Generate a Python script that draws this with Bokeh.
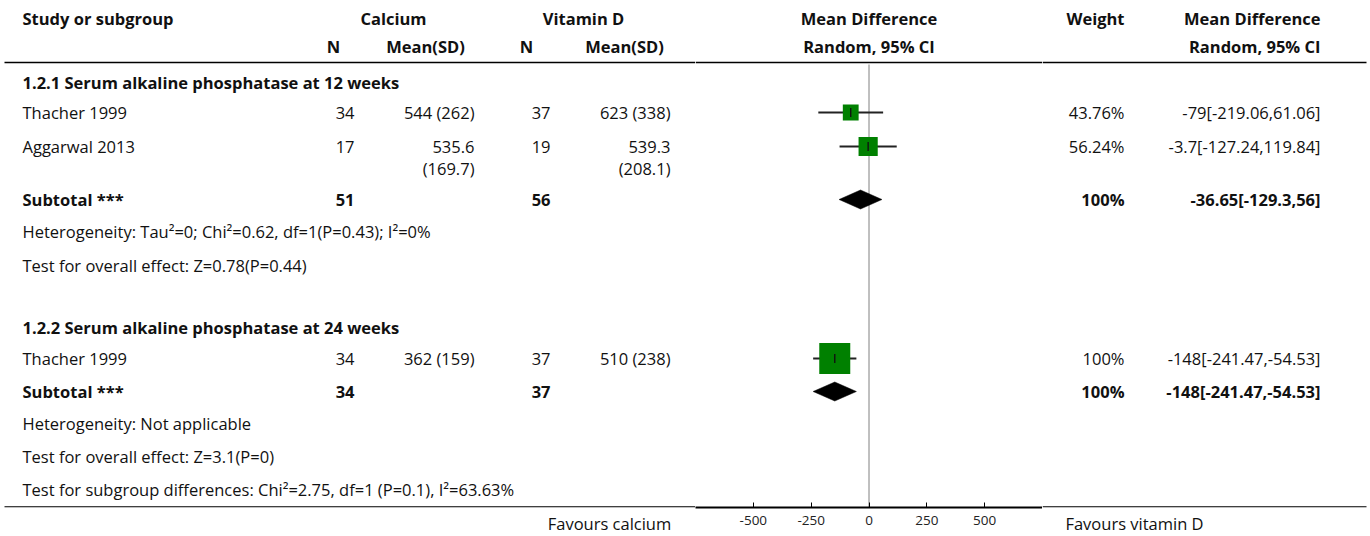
from bokeh.plotting import figure
from bokeh.models import Range1d, FixedTicker, LinearAxis
from bokeh.layouts import row
from bokeh.embed import file_html
from bokeh.resources import INLINE
from bokeh.core.properties import value

# ---------------- data ----------------
subgroup_titles = ["1.2.1 Serum alkaline phosphatase at 12 weeks",
                   "1.2.2 Serum alkaline phosphatase at 24 weeks"]
studies = ["Thacher 1999", "Aggarwal 2013", "Thacher 1999"]
study_subgroup = [0, 0, 1]
n_calcium = [34, 17, 34]
mean_calcium = [544, 535.6, 362]
sd_calcium = [262, 169.7, 159]
n_vitd = [37, 19, 37]
mean_vitd = [623, 539.3, 510]
sd_vitd = [338, 208.1, 238]
weight = [43.76, 56.24, 100]
md = [-79, -3.7, -148]
ci_lo = [-219.06, -127.24, -241.47]
ci_hi = [61.06, 119.84, -54.53]

sub_n_calcium = [51, 34]
sub_n_vitd = [56, 37]
sub_weight = [100, 100]
sub_md = [-36.65, -148]
sub_lo = [-129.3, -241.47]
sub_hi = [56, -54.53]
heterogeneity = ["Heterogeneity: Tau\u00b2=0; Chi\u00b2=0.62, df=1(P=0.43); I\u00b2=0%",
                 "Heterogeneity: Not applicable"]
overall_effect = ["Test for overall effect: Z=0.78(P=0.44)",
                  "Test for overall effect: Z=3.1(P=0)"]
subgroup_diff = "Test for subgroup differences: Chi\u00b2=2.75, df=1 (P=0.1), I\u00b2=63.63%"
axis_ticks = [-500, -250, 0, 250, 500]
axis_tick_labels = ["-500", "-250", "0", "250", "500"]
axis_limits = (-750, 750)
favours_left = "Favours calcium"
favours_right = "Favours vitamin D"

# ---------------- layout (screen pixels) ----------------
W_LEFT, W_MID, W_RIGHT = 695, 347, 328
FRAME_H = 507
FONT = "Open Sans"
FS = "16.5px"
INK = "#111111"
GREEN = "#008000"

Y_HEAD1, Y_HEAD2, Y_HLINE = 18, 46, 62
group_rows = [
    dict(title=82, studies=[112, 146], subtotal=199, het=231, overall=265),
    dict(title=327, studies=[358], subtotal=391, het=423, overall=456),
]
Y_SUBDIFF = 489
WRAP_STEP = 22
Y_ZERO_TOP = 64

X_STUDY = 22
X_N1_R, X_M1_R, X_N2_R, X_M2_R = 354, 474, 550, 670
X_N1_C, X_M1_C, X_N2_C, X_M2_C = 333, 425, 526, 624
X_CA_C, X_VD_C = 393, 583
X_W_R, X_CI_R = 1124, 1320
X_FAV_L_C, X_FAV_R_C = 609, 1134


def fmt(v):
    return f"{v:g}"


def mean_sd_lines(m, s):
    t = f"{fmt(m)} ({fmt(s)})"
    return t.split(" ") if len(t) > 10 else [t]


def ci_text(m, lo, hi):
    return f"{fmt(m)}[{fmt(lo)},{fmt(hi)}]"


def base_fig(width, x_range):
    p = figure(frame_width=width, frame_height=FRAME_H, x_range=x_range, y_range=Range1d(FRAME_H, 0),
               x_axis_location=None, y_axis_location=None, min_border=0,
               output_backend="svg", toolbar_location=None)
    p.grid.visible = False
    p.outline_line_color = None
    p.background_fill_color = "white"
    p.border_fill_color = "white"
    return p


left = base_fig(W_LEFT, Range1d(0, W_LEFT))
mid = base_fig(W_MID, Range1d(*axis_limits))
right = base_fig(W_RIGHT, Range1d(W_LEFT + W_MID, W_LEFT + W_MID + W_RIGHT))


def txt(p, x, y, s, align="left", bold=False, size=FS):
    p.text(x=[x], y=[y], text=[s], text_align=align, text_baseline="middle",
           text_font=value(FONT), text_font_size=size,
           text_font_style="bold" if bold else "normal", text_color=INK)


# ---------- header ----------
txt(left, X_STUDY, Y_HEAD1, "Study or subgroup", bold=True)
txt(left, X_CA_C, Y_HEAD1, "Calcium", "center", True)
txt(left, X_VD_C, Y_HEAD1, "Vitamin D", "center", True)
txt(left, X_N1_C, Y_HEAD2, "N", "center", True)
txt(left, X_M1_C, Y_HEAD2, "Mean(SD)", "center", True)
txt(left, X_N2_C, Y_HEAD2, "N", "center", True)
txt(left, X_M2_C, Y_HEAD2, "Mean(SD)", "center", True)
txt(mid, 0, Y_HEAD1, "Mean Difference", "center", True)
txt(mid, 0, Y_HEAD2, "Random, 95% CI", "center", True)
txt(right, X_W_R, Y_HEAD1, "Weight", "right", True)
txt(right, X_CI_R, Y_HEAD1, "Mean Difference", "right", True)
txt(right, X_CI_R, Y_HEAD2, "Random, 95% CI", "right", True)

left.segment(x0=[4], y0=[Y_HLINE], x1=[W_LEFT], y1=[Y_HLINE], line_color="#000000", line_width=1.6)
mid.segment(x0=[axis_limits[0]], y0=[Y_HLINE], x1=[axis_limits[1]], y1=[Y_HLINE],
            line_color="#000000", line_width=1.6)
right.segment(x0=[W_LEFT + W_MID], y0=[Y_HLINE], x1=[W_LEFT + W_MID + W_RIGHT - 4], y1=[Y_HLINE],
              line_color="#000000", line_width=1.6)
left.segment(x0=[4], y0=[FRAME_H - 0.6], x1=[W_LEFT], y1=[FRAME_H - 0.6], line_color="#000000", line_width=1.1)
right.segment(x0=[W_LEFT + W_MID], y0=[FRAME_H - 0.6], x1=[W_LEFT + W_MID + W_RIGHT - 4], y1=[FRAME_H - 0.6],
              line_color="#000000", line_width=1.1)

# zero line
mid.segment(x0=[0], y0=[Y_ZERO_TOP], x1=[0], y1=[FRAME_H], line_color="#808080", line_width=1)

# ---------- body ----------
for g, rows in enumerate(group_rows):
    txt(left, X_STUDY, rows["title"], subgroup_titles[g], bold=True)
    idx = [i for i, s in enumerate(study_subgroup) if s == g]
    for k, i in enumerate(idx):
        y = rows["studies"][k]
        txt(left, X_STUDY, y, studies[i])
        txt(left, X_N1_R, y, fmt(n_calcium[i]), "right")
        for j, line in enumerate(mean_sd_lines(mean_calcium[i], sd_calcium[i])):
            txt(left, X_M1_R, y + j * WRAP_STEP, line, "right")
        txt(left, X_N2_R, y, fmt(n_vitd[i]), "right")
        for j, line in enumerate(mean_sd_lines(mean_vitd[i], sd_vitd[i])):
            txt(left, X_M2_R, y + j * WRAP_STEP, line, "right")
        txt(right, X_W_R, y, f"{fmt(weight[i])}%", "right")
        txt(right, X_CI_R, y, ci_text(md[i], ci_lo[i], ci_hi[i]), "right")
        # forest marks
        mid.segment(x0=[ci_lo[i]], y0=[y], x1=[ci_hi[i]], y1=[y], line_color="#222222", line_width=1.8)
        mid.scatter(x=[md[i]], y=[y], marker="square", size=4 + 0.27 * weight[i],
                    fill_color=GREEN, line_color=None)
        mid.segment(x0=[md[i]], y0=[y - 4.5], x1=[md[i]], y1=[y + 4.5], line_color="#111111", line_width=1.4)
    ys = rows["subtotal"]
    txt(left, X_STUDY, ys, "Subtotal ***", bold=True)
    txt(left, X_N1_R, ys, fmt(sub_n_calcium[g]), "right", True)
    txt(left, X_N2_R, ys, fmt(sub_n_vitd[g]), "right", True)
    txt(right, X_W_R, ys, f"{fmt(sub_weight[g])}%", "right", True)
    txt(right, X_CI_R, ys, ci_text(sub_md[g], sub_lo[g], sub_hi[g]), "right", True)
    mid.patch(x=[sub_lo[g], sub_md[g], sub_hi[g], sub_md[g]],
              y=[ys, ys - 9.5, ys, ys + 9.5], fill_color="#000000", line_color="#000000", line_width=0.5)
    txt(left, X_STUDY, rows["het"], heterogeneity[g])
    txt(left, X_STUDY, rows["overall"], overall_effect[g])

txt(left, X_STUDY, Y_SUBDIFF, subgroup_diff)

# ---------- axes ----------
ax = LinearAxis(ticker=FixedTicker(ticks=axis_ticks))
ax.major_label_overrides = {t: s for t, s in zip(axis_ticks, axis_tick_labels)}
ax.major_tick_in = 5
ax.major_tick_out = 0
ax.minor_tick_in = 0
ax.minor_tick_out = 0
ax.axis_line_width = 1.8
ax.axis_line_color = "#000000"
ax.major_tick_line_color = "#000000"
ax.major_label_text_font = FONT
ax.major_label_text_font_size = "13.5px"
ax.major_label_text_color = "#222222"
ax.major_label_standoff = 8
mid.add_layout(ax, "below")

# side "axes" carrying the favours captions under the plot line
for p, xc, s in ((left, X_FAV_L_C, favours_left), (right, X_FAV_R_C, favours_right)):
    fa = LinearAxis(ticker=FixedTicker(ticks=[xc]))
    fa.major_label_overrides = {xc: s}
    fa.axis_line_color = None
    fa.major_tick_line_color = None
    fa.minor_tick_line_color = None
    fa.major_tick_in = 0
    fa.major_tick_out = 0
    fa.major_label_text_font = FONT
    fa.major_label_text_font_size = FS
    fa.major_label_text_color = INK
    fa.major_label_standoff = 4
    p.add_layout(fa, "below")

layout = row(left, mid, right, spacing=0)
open("out.html", "w").write(file_html(layout, INLINE))
